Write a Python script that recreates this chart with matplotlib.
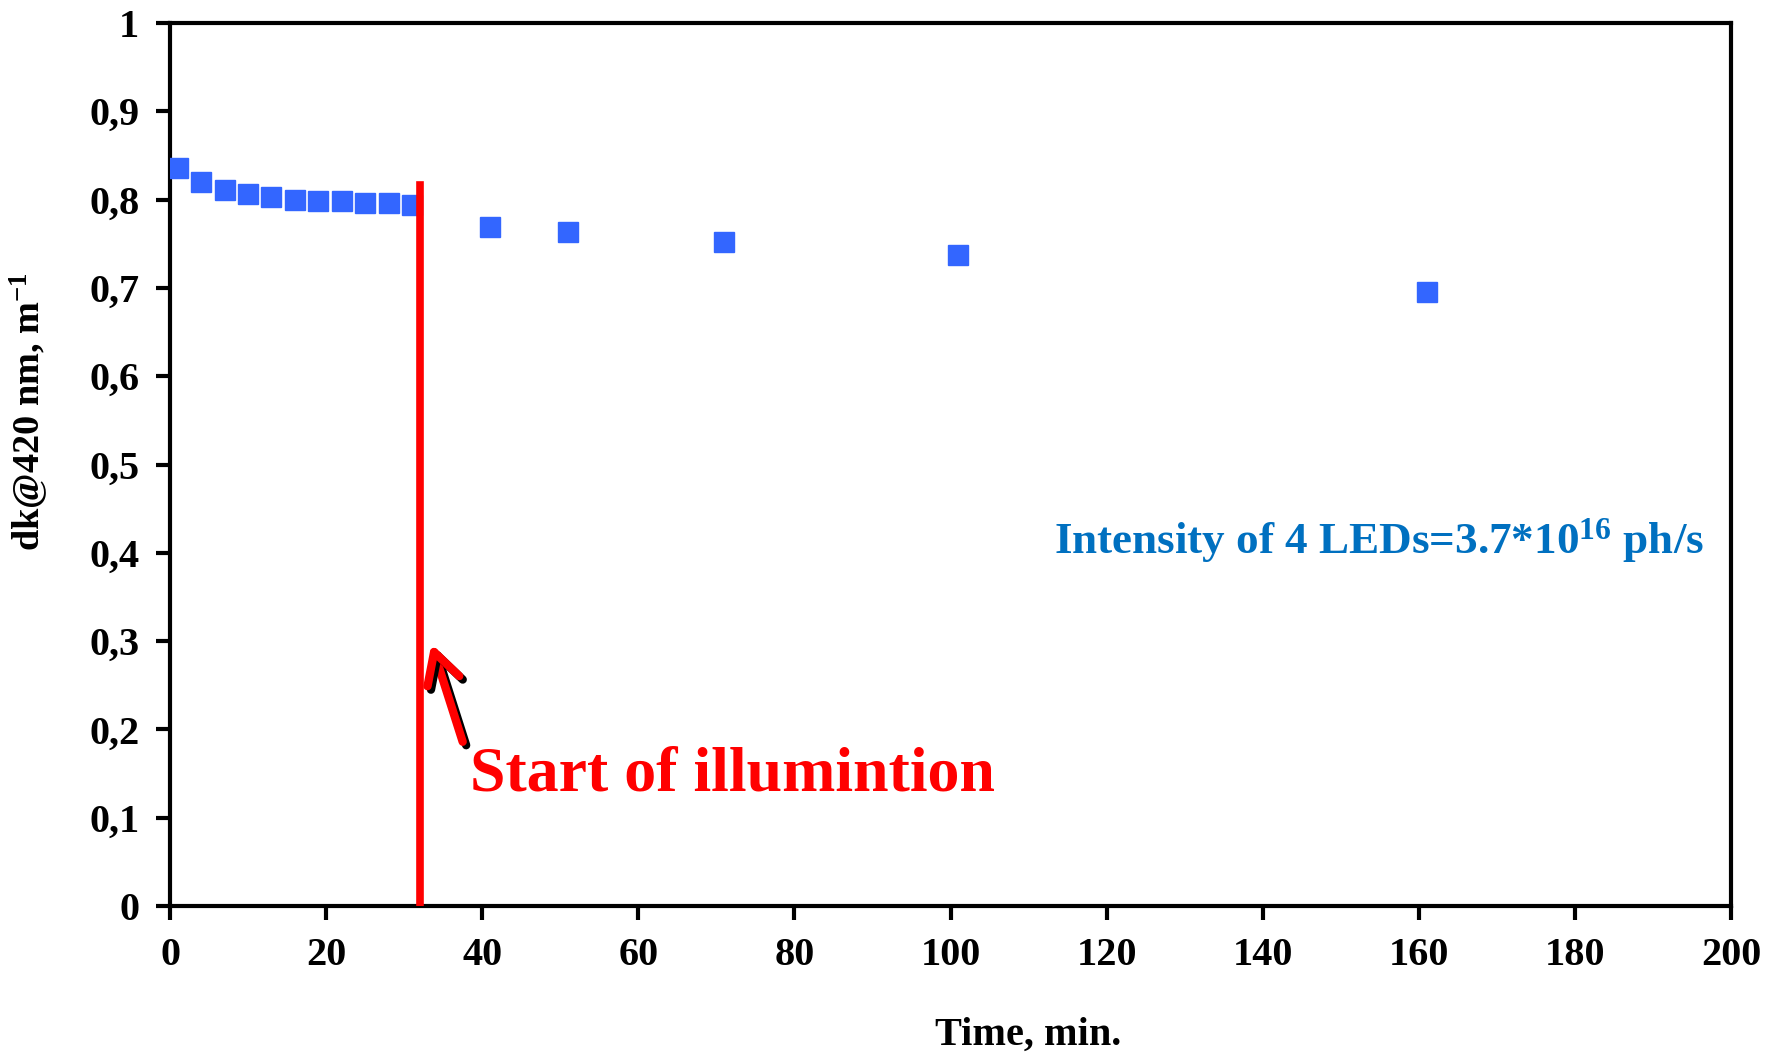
import matplotlib
matplotlib.use('Agg')
import matplotlib.pyplot as plt
import matplotlib.patheffects as pe
from matplotlib.ticker import FuncFormatter

plt.rcParams.update({'font.family': 'Liberation Serif', 'font.weight': 'bold',
                     'mathtext.fontset': 'custom',
                     'mathtext.rm': 'Liberation Serif:bold',
                     'mathtext.bf': 'Liberation Serif:bold',
                     'mathtext.it': 'Liberation Serif:bold'})

time_min = [1, 4, 7, 10, 13, 16, 19, 22, 25, 28, 31, 41, 51, 71, 101, 161]
dk420 = [0.836, 0.820, 0.811, 0.806, 0.803, 0.799, 0.798, 0.798, 0.796, 0.796,
         0.794, 0.769, 0.763, 0.752, 0.737, 0.695]
t_start = 32
line_top = 0.816


def comma(v, pos):
    s = f'{v:.1f}'.rstrip('0').rstrip('.')
    return s.replace('.', ',')


fig = plt.figure(figsize=(17.8, 10.54), dpi=100)
ax = fig.add_axes([170/1780, 1-906/1054, (1731-170)/1780, (906-23)/1054])

ax.plot(time_min, dk420, 's', color='#3366FF', ms=14, mec='#3366FF', zorder=3)
ax.plot([t_start, t_start], [0, line_top], color='#FF0000', lw=5.5, zorder=4)

ax.annotate('', xy=(33.5, 0.297), xytext=(37.5, 0.186),
            arrowprops=dict(arrowstyle='->,head_length=1.1,head_width=0.6', lw=6,
                            mutation_scale=20,
                            color='#FF0000', capstyle='round', joinstyle='round',
                            shrinkA=0, shrinkB=0,
                            path_effects=[pe.SimpleLineShadow(offset=(2.5, -2.5), shadow_color='k',
                                                              alpha=1), pe.Normal()]))
ax.text(38.5, 0.148, 'Start of illumintion', color='#FF0000', fontsize=46,
        fontweight='bold', va='center', ha='left')
ax.text(113.3, 0.414, r'Intensity of 4 LEDs=3.7*10$^{16}$ ph/s', color='#0070C0',
        fontsize=32.5, fontweight='bold', va='center', ha='left')

ax.set_xlim(0, 200)
ax.set_ylim(0, 1)
ax.set_xticks(range(0, 201, 20))
ax.set_yticks([i/10 for i in range(11)])
ax.yaxis.set_major_formatter(FuncFormatter(comma))
ax.tick_params(direction='out', length=10, width=3, labelsize=29, pad=12)
for s in ax.spines.values():
    s.set_linewidth(3)
ax.set_xlabel('Time, min.', fontsize=29, fontweight='bold')
ax.xaxis.set_label_coords(0.55, -0.125)
ax.set_ylabel(r'dk@420 nm, m$^{-1}$', fontsize=27.5, fontweight='bold')
ax.yaxis.set_label_coords(-0.077, 0.56)

fig.savefig('out.png', dpi=100)
